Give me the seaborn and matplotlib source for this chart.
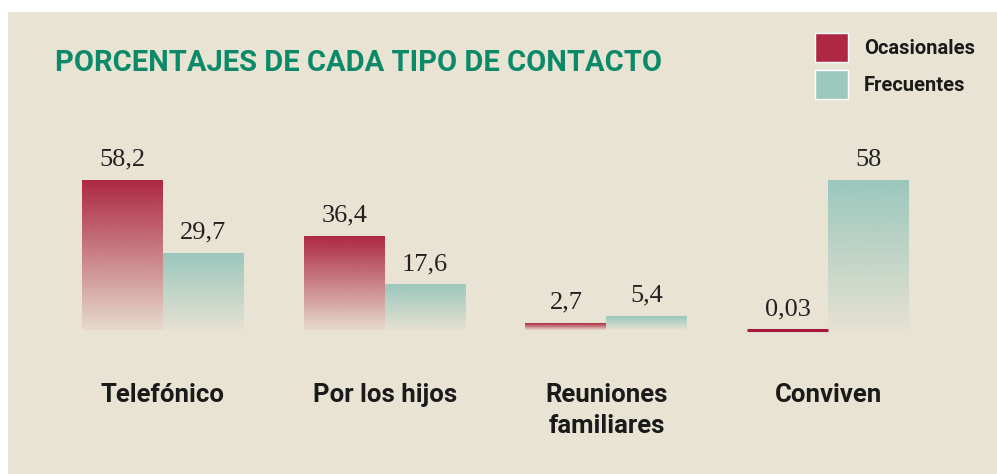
import matplotlib
matplotlib.use("Agg")
import matplotlib.pyplot as plt
import numpy as np
import pandas as pd
import seaborn as sns
from matplotlib.patches import Rectangle, Patch
from matplotlib.colors import to_rgb

# datos
categorias = ["Telefónico", "Por los hijos", "Reuniones\nfamiliares", "Conviven"]
series = ["Ocasionales", "Frecuentes"]
ocasionales = [58.2, 36.4, 2.7, 0.03]
frecuentes = [29.7, 17.6, 5.4, 58]
colores = ["#ad2840", "#9bc7bd"]
titulo = "PORCENTAJES DE CADA TIPO DE CONTACTO"

df = pd.DataFrame({
    "categoria": categorias * 2,
    "tipo": [series[0]] * 4 + [series[1]] * 4,
    "valor": ocasionales + frecuentes,
})

sns.set_theme(style="white")
plt.rcParams["font.family"] = ["Roboto", "DejaVu Sans"]
serif = ["Liberation Serif", "DejaVu Serif"]

W, H = 997, 474
fondo = "#e9e3d3"
fig = plt.figure(figsize=(W / 100, H / 100), dpi=100, facecolor="white")
fig.patches.append(Rectangle((8 / W, 0), 1, 1 - 12 / H, transform=fig.transFigure,
                             facecolor=fondo, edgecolor="none", zorder=-10))

ax = fig.add_axes([52 / W, 144 / H, 887 / W, 180 / H])
ax.patch.set_visible(False)
sns.barplot(data=df, x="categoria", y="valor", hue="tipo", hue_order=series,
            palette=colores, width=0.73, errorbar=None, legend=False, ax=ax,
            linewidth=0)

# degradado de cada barra (color arriba, se desvanece hacia abajo)
for cont, color in zip(ax.containers, colores):
    c = np.array(to_rgb(color))
    for p in cont.patches:
        x0, y0, w, h = p.get_x(), p.get_y(), p.get_width(), p.get_height()
        if h < 0.5:
            # valor casi nulo: se dibuja como una raya
            p.set_facecolor("#a8183a")
            p.set_edgecolor("#a8183a")
            p.set_linewidth(2.2)
            p.set_joinstyle("round")
            p.set_clip_on(False)
            continue
        t = np.linspace(0, 1, 256)[:, None]
        img = np.zeros((256, 1, 4))
        img[..., :3] = c
        img[..., 3] = 1 - 0.95 * t
        ax.imshow(img, extent=(x0, x0 + w, y0, y0 + h), aspect="auto",
                  origin="upper", interpolation="bilinear", zorder=2)
        p.set_facecolor("none")
        p.set_linewidth(0)

for cont, vals in zip(ax.containers, [ocasionales, frecuentes]):
    ax.bar_label(cont, labels=[f"{v:g}".replace(".", ",") for v in vals],
                 padding=7, fontsize=19, family=serif, color="#222222")

ax.set_xlim(-0.5, 3.5)
ax.set_ylim(0, 70)
ax.set_xticks(range(4))
ax.set_xticklabels(categorias, fontsize=18.5, fontweight="bold", color="#1a1a1a", linespacing=1.4)
ax.tick_params(axis="x", length=0, pad=38)
ax.set_yticks([])
ax.set_xlabel("")
ax.set_ylabel("")
sns.despine(ax=ax, left=True, bottom=True)

fig.text(55 / W, 1 - 71 / H, titulo, fontsize=21, fontweight="bold",
         color="#0b8a6a", ha="left", va="baseline")

handles = [Patch(facecolor=c, label=s) for s, c in zip(series, colores)]
fs = 14.5
px = fs * 100 / 72
fig.legend(handles=handles, loc="upper left", bbox_to_anchor=(815 / W, 1 - 33 / H),
           frameon=False, prop={"size": fs, "weight": "bold"}, labelcolor="#1a1a1a",
           handlelength=33 / px, handleheight=37 / px, handletextpad=16 / px,
           labelspacing=8 / px, borderpad=0, borderaxespad=0)

fig.savefig("out.png", dpi=100, facecolor="white")
